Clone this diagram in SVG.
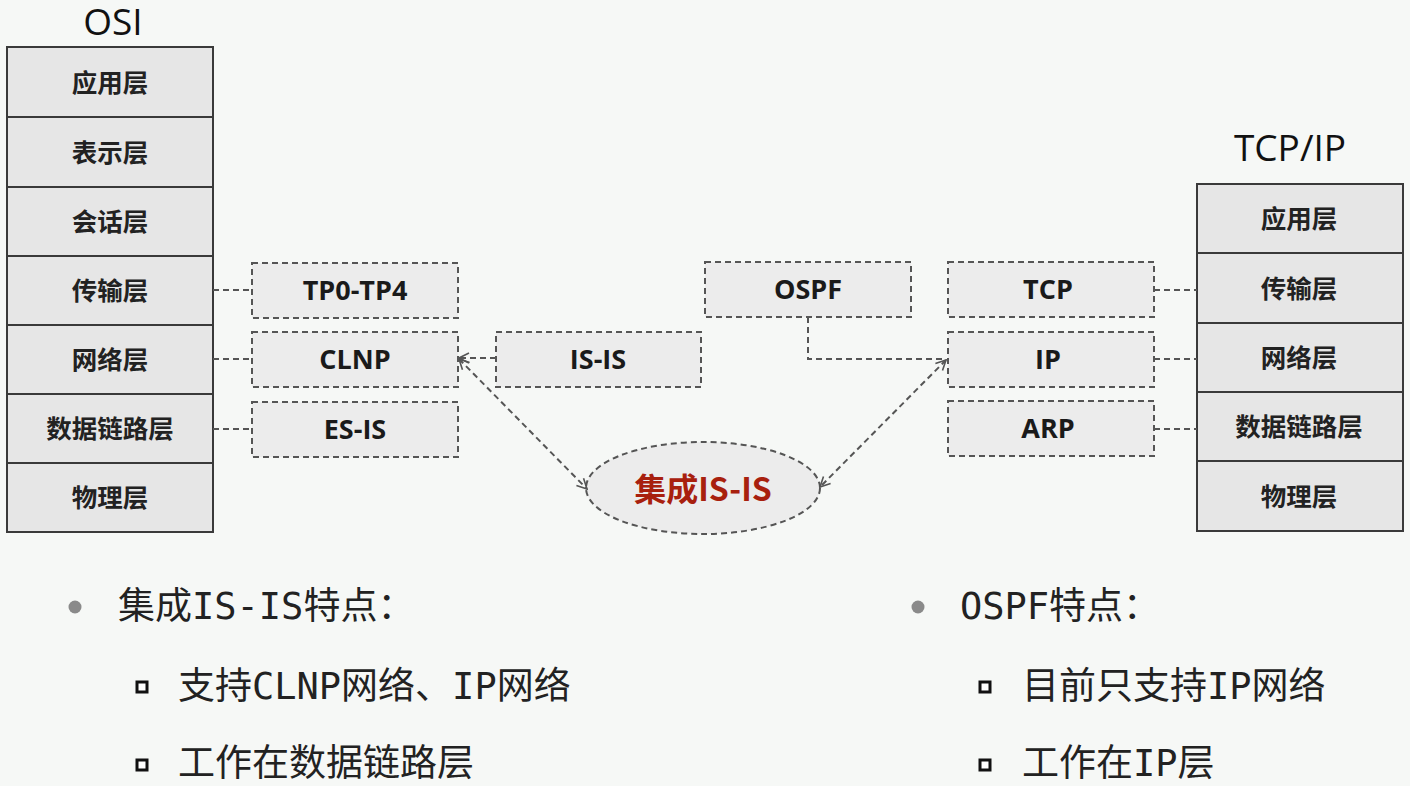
<svg xmlns="http://www.w3.org/2000/svg" width="1410" height="786" viewBox="0 0 1410 786">
  <style>
    .cell { fill: #e6e6e6; stroke: #3a3a3a; stroke-width: 2; }
    .cellt { font-family: "Noto Sans CJK SC", sans-serif; font-weight: 700; font-size: 25.5px; fill: #222; text-anchor: middle; }
    .proto { fill: #ececec; stroke: #555; stroke-width: 2; stroke-dasharray: 6 4; }
    .protot { font-family: "Open Sans", "Liberation Sans", sans-serif; font-weight: 700; font-size: 27px; fill: #1a1a1a; text-anchor: middle; }
    .title { font-family: "Open Sans", "Liberation Sans", sans-serif; font-size: 37px; fill: #111; text-anchor: middle; }
    .link { fill: none; stroke: #555; stroke-width: 2; stroke-dasharray: 6 4; }
    .body { font-family: "DejaVu Sans Mono", "Noto Sans CJK SC", monospace; font-size: 37px; fill: #222; }
    .sq { fill: #fff; stroke: #111; stroke-width: 3; }
  </style>
  <defs>
    <marker id="arrow" viewBox="0 0 12 12" refX="11" refY="6" markerWidth="12" markerHeight="12" markerUnits="userSpaceOnUse" orient="auto-start-reverse">
      <path d="M1,1 L11,6 L1,11" fill="none" stroke="#555" stroke-width="1.6"/>
    </marker>
  </defs>

  <rect width="1410" height="786" fill="#f6f8f6"/>

  <!-- OSI stack -->
  <text class="title" x="113" y="35">OSI</text>
  <g id="osi-app"><rect class="cell" x="7" y="47" width="206" height="70"/><text class="cellt" x="110" y="92">应用层</text></g>
  <g id="osi-pres"><rect class="cell" x="7" y="117" width="206" height="70"/><text class="cellt" x="110" y="162">表示层</text></g>
  <g id="osi-sess"><rect class="cell" x="7" y="187" width="206" height="69"/><text class="cellt" x="110" y="231">会话层</text></g>
  <g id="osi-trans"><rect class="cell" x="7" y="256" width="206" height="69"/><text class="cellt" x="110" y="300">传输层</text></g>
  <g id="osi-net"><rect class="cell" x="7" y="325" width="206" height="69"/><text class="cellt" x="110" y="369">网络层</text></g>
  <g id="osi-link"><rect class="cell" x="7" y="394" width="206" height="69"/><text class="cellt" x="110" y="438">数据链路层</text></g>
  <g id="osi-phy"><rect class="cell" x="7" y="463" width="206" height="69"/><text class="cellt" x="110" y="507">物理层</text></g>

  <!-- TCP/IP stack -->
  <text class="title" x="1290" y="161">TCP/IP</text>
  <g id="tcpip-app"><rect class="cell" x="1197" y="184" width="206" height="69"/><text class="cellt" x="1299" y="228">应用层</text></g>
  <g id="tcpip-trans"><rect class="cell" x="1197" y="253" width="206" height="70"/><text class="cellt" x="1299" y="298">传输层</text></g>
  <g id="tcpip-net"><rect class="cell" x="1197" y="323" width="206" height="69"/><text class="cellt" x="1299" y="367">网络层</text></g>
  <g id="tcpip-link"><rect class="cell" x="1197" y="392" width="206" height="69"/><text class="cellt" x="1299" y="436">数据链路层</text></g>
  <g id="tcpip-phy"><rect class="cell" x="1197" y="461" width="206" height="70"/><text class="cellt" x="1299" y="506">物理层</text></g>

  <!-- protocol boxes -->
  <g id="tp0-tp4"><rect class="proto" x="252" y="263" width="206" height="55"/><text class="protot" x="355" y="300">TP0-TP4</text></g>
  <g id="clnp"><rect class="proto" x="252" y="332" width="206" height="55"/><text class="protot" x="355" y="369">CLNP</text></g>
  <g id="es-is"><rect class="proto" x="252" y="402" width="206" height="55"/><text class="protot" x="355" y="439">ES-IS</text></g>
  <g id="is-is"><rect class="proto" x="496" y="332" width="205" height="55"/><text class="protot" x="598" y="369">IS-IS</text></g>
  <g id="ospf"><rect class="proto" x="705" y="262" width="206" height="55"/><text class="protot" x="808" y="299">OSPF</text></g>
  <g id="tcp"><rect class="proto" x="948" y="262" width="206" height="55"/><text class="protot" x="1048" y="299">TCP</text></g>
  <g id="ip"><rect class="proto" x="948" y="332" width="206" height="55"/><text class="protot" x="1048" y="369">IP</text></g>
  <g id="arp"><rect class="proto" x="948" y="401" width="206" height="55"/><text class="protot" x="1048" y="438">ARP</text></g>

  <!-- integrated IS-IS -->
  <g id="integrated-is-is">
    <ellipse class="proto" cx="703" cy="488" rx="117" ry="46"/>
    <text x="703" y="501" text-anchor="middle" font-family="Noto Sans CJK SC, sans-serif" font-weight="700" font-size="32" fill="#a8200e">集成IS-IS</text>
  </g>

  <!-- connectors -->
  <g id="connectors">
    <path class="link" d="M213,290 H252"/>
    <path class="link" d="M213,359 H252"/>
    <path class="link" d="M213,429 H252"/>
    <path class="link" d="M1154,290 H1197"/>
    <path class="link" d="M1154,359 H1197"/>
    <path class="link" d="M1154,429 H1197"/>
    <path class="link" d="M496,358 H459" marker-end="url(#arrow)"/>
    <path class="link" d="M459,359 L587,489" marker-start="url(#arrow)" marker-end="url(#arrow)"/>
    <path class="link" d="M808,317 V359 H946"/>
    <path class="link" d="M946,360 L820,487" marker-start="url(#arrow)" marker-end="url(#arrow)"/>
  </g>

  <!-- feature notes -->
  <g id="notes-isis">
    <circle cx="75" cy="607" r="6.5" fill="#8a8a8a"/>
    <text class="body" x="118" y="619" font-size="38">集成IS-IS特点：</text>
    <rect class="sq" x="137" y="682" width="10" height="10"/>
    <text class="body" x="178" y="699">支持CLNP网络、IP网络</text>
    <rect class="sq" x="137" y="760" width="10" height="10"/>
    <text class="body" x="178" y="776">工作在数据链路层</text>
  </g>
  <g id="notes-ospf">
    <circle cx="918" cy="607" r="6.5" fill="#8a8a8a"/>
    <text class="body" x="960" y="619" font-size="38">OSPF特点：</text>
    <rect class="sq" x="980" y="682" width="10" height="10"/>
    <text class="body" x="1022" y="699">目前只支持IP网络</text>
    <rect class="sq" x="980" y="760" width="10" height="10"/>
    <text class="body" x="1022" y="776">工作在IP层</text>
  </g>
</svg>
